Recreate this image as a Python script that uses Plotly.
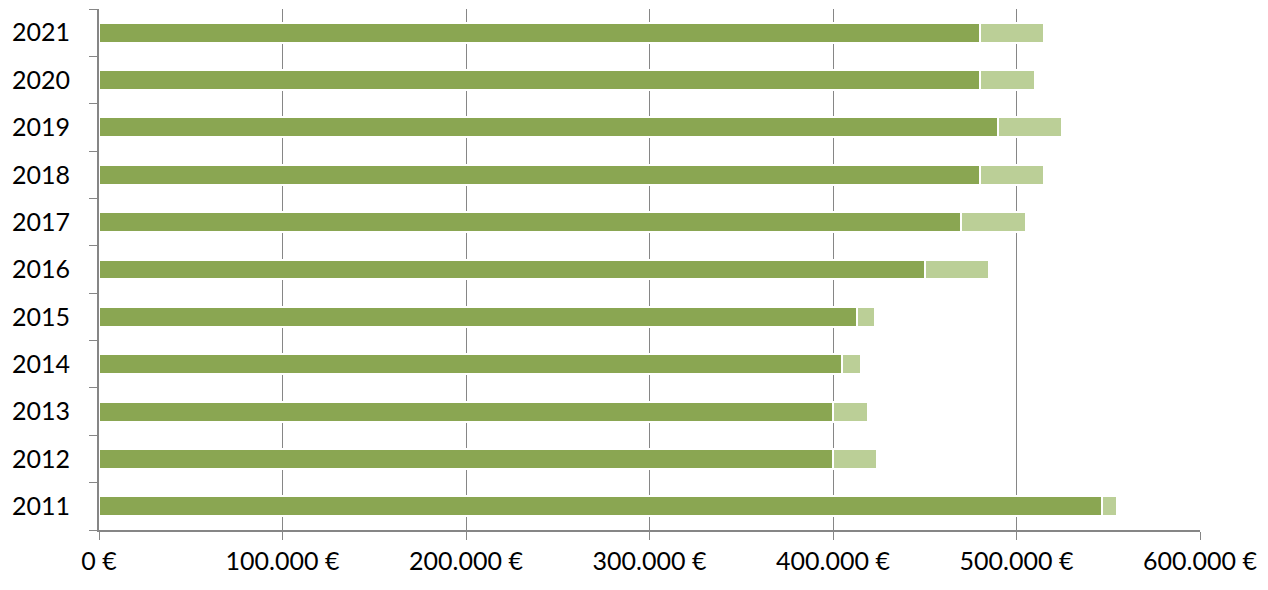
import plotly.graph_objects as go

years = ["2011", "2012", "2013", "2014", "2015", "2016", "2017", "2018", "2019", "2020", "2021"]
base_values = [546500, 400000, 400000, 405000, 413000, 450000, 470000, 480000, 490000, 480000, 480000]
extra_values = [8000, 24000, 19000, 10000, 10000, 35000, 35000, 35000, 35000, 30000, 35000]
x_tickvals = [0, 100000, 200000, 300000, 400000, 500000, 600000]
x_ticktext = ["0 €", "100.000 €", "200.000 €", "300.000 €", "400.000 €", "500.000 €", "600.000 €"]

fig = go.Figure()
fig.add_trace(go.Bar(
    y=years, x=base_values, orientation="h", name="Basis",
    marker=dict(color="#8aa652", line=dict(color="white", width=2)),
))
fig.add_trace(go.Bar(
    y=years, x=extra_values, orientation="h", name="Zusatz",
    marker=dict(color="#bbcf97", line=dict(color="white", width=2)),
))

font_family = "Lato, 'Open Sans', sans-serif"
fig.update_layout(
    barmode="stack",
    bargap=0.58,
    width=1268, height=590,
    margin=dict(l=91, r=76, t=1, b=68),
    plot_bgcolor="white", paper_bgcolor="white",
    showlegend=False,
    font=dict(family=font_family, size=25, color="#000000"),
    xaxis=dict(
        range=[0, 600000],
        tickvals=x_tickvals, ticktext=x_ticktext,
        showgrid=True, gridcolor="#868686", gridwidth=1,
        showline=True, linecolor="#868686", linewidth=2,
        ticks="outside", ticklen=8, tickcolor="#868686", tickwidth=1,
        zeroline=False, automargin=False,
        tickfont=dict(size=25),
    ),
    yaxis=dict(
        categoryorder="array", categoryarray=years,
        showline=True, linecolor="#868686", linewidth=2,
        ticks="outside", tickson="boundaries", ticklen=8, tickcolor="#868686", tickwidth=1,
        showgrid=False, automargin=False,
        ticklabelstandoff=22,
        tickfont=dict(size=25),
    ),
)

fig.write_html("out.html")
